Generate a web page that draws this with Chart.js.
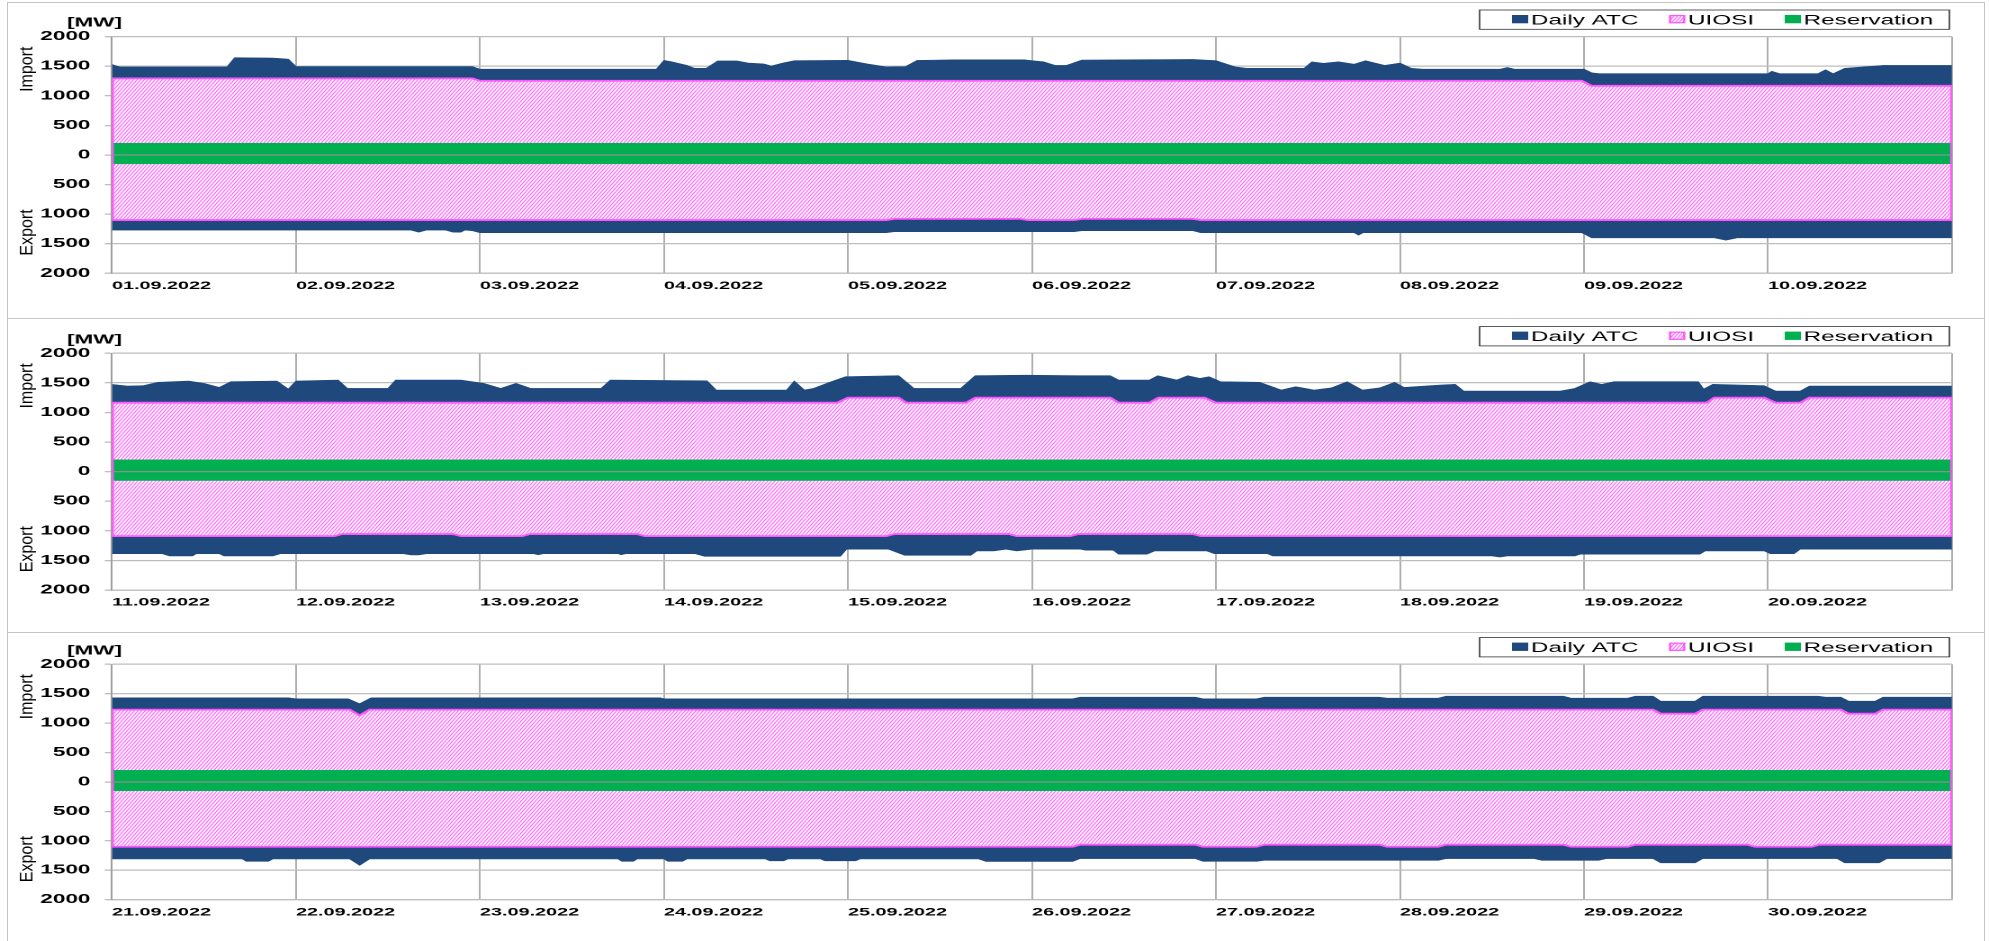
<!DOCTYPE html>
<html>
<head>
<meta charset="utf-8">
<script src="https://cdn.jsdelivr.net/npm/chart.js@4.4.1/dist/chart.umd.min.js"></script>
<style>
  html, body { margin: 0; padding: 0; background: #fff; }
  body { width: 1989px; height: 941px; position: relative; overflow: hidden; }
  .panel { position: absolute; left: 7px; width: 1978px; box-sizing: border-box;
           border-top: 1px solid #c4c4c4; border-left: 1px solid #c4c4c4; border-right: 1px solid #c4c4c4; }
  canvas { position: absolute; left: 0; }
</style>
</head>
<body>
<div class="panel" style="top:2px;height:316px"></div>
<div class="panel" style="top:318px;height:314px"></div>
<div class="panel" style="top:632px;height:309px"></div>
<canvas id="c1" width="1105" height="318" style="top:0px;width:1989px;height:318px"></canvas>
<canvas id="c2" width="1105" height="314" style="top:318px;width:1989px;height:314px"></canvas>
<canvas id="c3" width="1105" height="309" style="top:632px;width:1989px;height:309px"></canvas>
<script>
// tick labels (one per day, x values are hours from the start of the panel)
const dates1 = ['01.09.2022', '02.09.2022', '03.09.2022', '04.09.2022', '05.09.2022',
                '06.09.2022', '07.09.2022', '08.09.2022', '09.09.2022', '10.09.2022'];
const dates2 = ['11.09.2022', '12.09.2022', '13.09.2022', '14.09.2022', '15.09.2022',
                '16.09.2022', '17.09.2022', '18.09.2022', '19.09.2022', '20.09.2022'];
const dates3 = ['21.09.2022', '22.09.2022', '23.09.2022', '24.09.2022', '25.09.2022',
                '26.09.2022', '27.09.2022', '28.09.2022', '29.09.2022', '30.09.2022'];

// reservation band, same in all three panels [hour, MW]
const reservationImport = [[0, 200], [240, 200]];
const reservationExport = [[0, -150], [240, -150]];

// 01.09 - 10.09  [hour, MW]
const atcImport1 = [[0,1530],[1,1490],[15,1490],[16,1645],[21,1640],[23,1620],[24,1495],[47,1495],[48,1450],
  [71,1450],[72,1600],[73,1575],[75,1515],[76,1465],[77.5,1465],[79,1590],[81.5,1590],[83,1555],[85,1540],
  [86,1505],[87.5,1555],[89,1595],[96,1600],[98.5,1540],[101,1490],[103.5,1495],[105,1600],[110,1610],
  [119,1610],[120,1595],[121.5,1575],[123,1515],[124.5,1515],[126.5,1605],[141,1615],[144,1595],[146.5,1490],
  [148,1465],[155.5,1465],[156.5,1575],[158,1550],[160,1575],[162,1535],[163.5,1595],[166,1515],[168,1555],
  [169.5,1465],[171,1450],[181,1450],[182,1480],[183,1450],[192,1450],[193,1390],[194,1375],[216,1375],
  [216.5,1415],[217.5,1375],[222.5,1375],[223.5,1440],[224.5,1375],[226,1465],[229.5,1500],[231,1515],[240,1515]];
const uiosiImport1 = [[0,1295],[47,1295],[48,1255],[191.7,1255],[193,1170],[240,1170]];
const uiosiExport1 = [[0,-1100],[101,-1100],[102,-1080],[118.5,-1080],[119.5,-1100],[125.5,-1100],
  [126.5,-1080],[141,-1080],[142,-1100],[240,-1100]];
const atcExport1 = [[0,-1270],[39,-1270],[40,-1305],[41,-1270],[43.5,-1270],[44.5,-1305],[45.5,-1305],
  [46,-1270],[47,-1280],[48,-1313],[101,-1313],[102,-1296],[125.5,-1296],[126.5,-1280],[141,-1280],
  [142,-1313],[162,-1313],[162.6,-1353],[163.2,-1313],[191.7,-1313],[193,-1400],[209,-1400],[210.5,-1440],
  [212,-1400],[240,-1400]];

// 11.09 - 20.09
const atcImport2 = [[0,1475],[2,1447],[4,1452],[6,1509],[10,1531],[12,1492],[14,1424],[15.5,1520],[21.5,1531],
  [23,1396],[24,1531],[29.5,1548],[30.7,1407],[36,1407],[37,1548],[45.5,1548],[48.5,1492],[50.7,1407],
  [52.7,1492],[54.6,1407],[63.8,1407],[65,1548],[77.6,1535],[78.8,1379],[88,1379],[89,1531],[90.3,1379],
  [91.5,1407],[93.8,1520],[95.7,1604],[102.6,1621],[104.6,1407],[110.7,1407],[112.6,1621],[119,1630],
  [126.3,1621],[130.2,1621],[131.3,1548],[135.3,1548],[136.4,1621],[138.9,1548],[140.3,1621],[141.9,1576],
  [143.1,1604],[144.6,1520],[149.7,1509],[152.5,1379],[154.4,1435],[156.8,1379],[159.1,1418],[161.1,1520],
  [163.1,1379],[165.4,1418],[167.3,1509],[168.5,1424],[173.2,1463],[175.2,1475],[176.3,1362],[188.9,1362],
  [190.8,1407],[192.8,1520],[194.3,1475],[195.9,1520],[206.9,1520],[207.6,1396],[208.8,1475],[215.5,1452],
  [217,1362],[220.2,1362],[221.4,1447],[240,1447]];
const uiosiImport2 = [[0,1165],[94.6,1165],[96,1250],[102.6,1250],[103.6,1165],[111.4,1165],[112.6,1250],
  [130.2,1250],[131.3,1165],[135.3,1165],[136.5,1250],[142.5,1250],[144,1165],[208,1165],[209,1250],
  [215.5,1250],[217,1165],[220.2,1165],[221.4,1250],[240,1250]];
const uiosiExport2 = [[0,-1090],[29,-1090],[30,-1055],[44.5,-1055],[45.5,-1090],[53.5,-1090],[54.5,-1055],
  [68.5,-1055],[69.5,-1090],[101,-1090],[102,-1055],[117,-1055],[118,-1090],[125,-1090],[126,-1055],
  [141,-1055],[142,-1090],[240,-1090]];
const atcExport2 = [[0,-1386],[6.5,-1386],[7.5,-1425],[10.5,-1425],[11,-1386],[14,-1386],[14.6,-1425],
  [21,-1425],[22,-1386],[38,-1386],[39,-1408],[40,-1408],[41,-1386],[55,-1386],[55.6,-1405],[56.2,-1386],
  [66,-1386],[66.4,-1405],[67,-1386],[76,-1386],[77.3,-1431],[95,-1431],[95.8,-1311],[101.3,-1311],
  [103.4,-1415],[112,-1415],[112.8,-1340],[115,-1340],[116.6,-1311],[118,-1340],[120,-1311],[126.3,-1311],
  [127,-1328],[130.6,-1328],[131.3,-1396],[135,-1396],[136,-1340],[142.8,-1340],[143.8,-1386],[150.7,-1386],
  [151.4,-1425],[180,-1425],[181,-1443],[182,-1425],[190.8,-1425],[191.5,-1396],[207.1,-1396],[207.8,-1340],
  [215.5,-1340],[216.3,-1386],[219.4,-1386],[220.2,-1311],[240,-1311]];

// 21.09 - 30.09
const atcImport3 = [[0,1431],[23,1431],[24,1414],[30.8,1414],[32.3,1330],[33.8,1431],[71.5,1431],[72,1414],
  [125.3,1414],[126.3,1442],[141.3,1442],[142.3,1414],[149.3,1414],[150.3,1442],[165.3,1442],[166.3,1425],
  [173,1425],[174,1459],[189.3,1459],[190.3,1425],[197.7,1425],[198.7,1459],[201,1459],[202,1374],
  [206.5,1374],[207.5,1459],[222.5,1459],[223.5,1442],[225.5,1442],[226.5,1374],[230,1374],[231,1442],[240,1442]];
const uiosiImport3 = [[0,1230],[31,1230],[32.3,1132],[33.6,1230],[201,1230],[202,1161],[206.5,1161],
  [207.5,1230],[225.5,1230],[226.5,1161],[230,1161],[231,1230],[240,1230]];
const uiosiExport3 = [[0,-1100],[125.3,-1100],[126.3,-1065],[141.3,-1065],[142.3,-1100],[149.3,-1100],
  [150.3,-1065],[165.3,-1065],[166.3,-1100],[173,-1100],[174,-1065],[189.3,-1065],[190.3,-1100],[197.7,-1100],
  [198.7,-1065],[213.3,-1065],[214.3,-1100],[221.7,-1100],[222.7,-1065],[240,-1065]];
const atcExport3 = [[0,-1307],[17,-1307],[17.5,-1347],[20.4,-1347],[21,-1307],[31,-1307],[32.3,-1415],
  [33.6,-1307],[66,-1307],[66.5,-1347],[68,-1347],[68.5,-1307],[72,-1307],[72.5,-1347],[74.4,-1347],[75,-1307],
  [85.2,-1307],[85.8,-1340],[87.6,-1340],[88.2,-1307],[92.4,-1307],[93,-1340],[97,-1340],[97.6,-1307],
  [113,-1307],[114,-1350],[125.3,-1350],[126.3,-1301],[141.3,-1301],[142.3,-1347],[149.3,-1347],[150.3,-1330],
  [173,-1330],[174,-1301],[185.5,-1301],[186.5,-1330],[193.9,-1330],[194.9,-1301],[201,-1301],[202,-1374],
  [206.5,-1374],[207.5,-1301],[225,-1301],[226,-1374],[230.5,-1374],[231.5,-1301],[240,-1301]];

const BLUE = '#1f497d';
const GREEN = '#00b050';
const PINK = '#ff55ff';
const DPR = 2;
// the original picture is stretched sideways, so the canvases are drawn narrow and widened by css
const STRETCH = 1.8;
const FONT = '"Liberation Sans", Arial, sans-serif';

function makeHatch() {
  const tile = document.createElement('canvas');
  tile.width = 4; tile.height = 8;
  const t = tile.getContext('2d');
  t.fillStyle = '#ffffff';
  t.fillRect(0, 0, 4, 8);
  t.strokeStyle = '#ff6bff';
  t.lineWidth = 1.6;
  [-4, 0, 4].forEach(dx => {
    t.beginPath();
    t.moveTo(dx, 8);
    t.lineTo(dx + 4, 0);
    t.stroke();
  });
  const p = t.createPattern(tile, 'repeat');
  p.setTransform(new DOMMatrix().scale(1 / DPR));
  return p;
}

// legend box, [MW], Import / Export and the zero line
const decor = {
  id: 'decor',
  afterDatasetsDraw(chart) {
    const { ctx, chartArea: a, scales: { y } } = chart;
    const ds = chart.data.datasets;
    ctx.save();
    const up = ds[0].data, dn = ds[1].data;
    ctx.strokeStyle = PINK;
    ctx.lineWidth = 1;
    [[a.left + 0.5, up[0][1], dn[0][1]], [a.right - 0.5, up[up.length - 1][1], dn[dn.length - 1][1]]]
      .forEach(([px, v1, v2]) => {
        ctx.beginPath();
        ctx.moveTo(px, y.getPixelForValue(v1));
        ctx.lineTo(px, y.getPixelForValue(v2));
        ctx.stroke();
      });
    const y0 = y.getPixelForValue(0);
    ctx.strokeStyle = '#8e8e8e';
    ctx.lineWidth = 1.3;
    ctx.beginPath();
    ctx.moveTo(a.left, y0);
    ctx.lineTo(a.right, y0);
    ctx.stroke();
    ctx.restore();
  },
  afterDraw(chart) {
    const { ctx, chartArea: a, scales: { y } } = chart;
    const ds = chart.data.datasets;
    ctx.save();

    // legend
    const top = a.top - 26.7;
    ctx.strokeStyle = '#333';
    ctx.lineWidth = 0.8;
    ctx.strokeRect(822, top, 261, 19.3);
    ctx.font = '13.5px ' + FONT;
    ctx.textBaseline = 'alphabetic';
    let lx = 840;
    [ds[2], ds[0], ds[4]].forEach(d => {
      ctx.fillStyle = d.backgroundColor;
      ctx.fillRect(lx, top + 5, 9, 8.3);
      if (d.label === 'UIOSI') {
        ctx.strokeStyle = PINK;
        ctx.lineWidth = 1.2;
        ctx.strokeRect(lx + 0.6, top + 5.6, 7.8, 7.1);
      }
      lx += 10.5;
      ctx.fillStyle = '#000';
      ctx.fillText(d.label, lx, top + 14.5);
      lx += ctx.measureText(d.label).width + 17;
    });

    // unit
    ctx.font = 'bold 12.5px ' + FONT;
    ctx.fillText('[MW]', 37.2, a.top - 10);

    // side titles, drawn unstretched
    ctx.font = '16px ' + FONT;
    ctx.textAlign = 'center';
    [['Import', 1450], ['Export', -1310]].forEach(([txt, v]) => {
      ctx.save();
      ctx.translate(18, y.getPixelForValue(v));
      ctx.scale(0.65, 1);
      ctx.rotate(-Math.PI / 2);
      ctx.fillText(txt, 0, 0);
      ctx.restore();
    });
    ctx.restore();
  }
};

function makeChart(id, padTop, padBottom, dates, atcImp, uiosiImp, uiosiExp, atcExp) {
  const hatch = makeHatch();
  return new Chart(document.getElementById(id), {
    type: 'line',
    data: {
      datasets: [
        { label: 'UIOSI', data: uiosiImp, fill: 'origin', backgroundColor: hatch,
          borderColor: PINK, borderWidth: 1.8, order: 1 },
        { label: 'UIOSI', data: uiosiExp, fill: 'origin', backgroundColor: hatch,
          borderColor: PINK, borderWidth: 1.8, order: 1 },
        { label: 'Daily ATC', data: atcImp, fill: 0, backgroundColor: BLUE,
          borderColor: BLUE, borderWidth: 0.6, order: 2 },
        { label: 'Daily ATC', data: atcExp, fill: 1, backgroundColor: BLUE,
          borderColor: BLUE, borderWidth: 0.6, order: 2 },
        { label: 'Reservation', data: reservationImport, fill: 'origin', backgroundColor: GREEN,
          borderColor: GREEN, borderWidth: 0.5, order: 0 },
        { label: 'Reservation', data: reservationExport, fill: 'origin', backgroundColor: GREEN,
          borderColor: GREEN, borderWidth: 0.5, order: 0 }
      ]
    },
    options: {
      responsive: false,
      animation: false,
      devicePixelRatio: DPR,
      events: [],
      layout: { padding: { top: padTop, bottom: padBottom, left: 0, right: 1105 - 1952 / STRETCH } },
      elements: { point: { radius: 0 }, line: { tension: 0 } },
      plugins: { legend: { display: false }, tooltip: { enabled: false } },
      scales: {
        x: {
          type: 'linear', min: 0, max: 240, offset: false,
          afterFit: s => { s.height = 30; },
          grid: { color: '#9a9a9a', lineWidth: 0.8, drawTicks: false },
          border: { color: '#bdbdbd', width: 1.3 },
          ticks: {
            stepSize: 24, autoSkip: false, maxRotation: 0, align: 'start', padding: 6,
            color: '#000', font: { family: FONT, size: 11, weight: 'bold' },
            callback: v => dates[v / 24] || ''
          }
        },
        y: {
          min: -2000, max: 2000,
          afterFit: s => { s.width = 112 / STRETCH; },
          grid: { color: '#bdbdbd', lineWidth: 1.3, tickLength: 4 },
          border: { color: '#9a9a9a', width: 0.8 },
          ticks: {
            stepSize: 500, padding: 8, color: '#000',
            font: { family: FONT, size: 12.5, weight: 'bold' },
            callback: v => Math.abs(v)
          }
        }
      }
    },
    plugins: [decor]
  });
}

makeChart('c1', 36.7, 14.7, dates1, atcImport1, uiosiImport1, uiosiExport1, atcExport1);
makeChart('c2', 35.3, 12, dates2, atcImport2, uiosiImport2, uiosiExport2, atcExport2);
makeChart('c3', 32.3, 11.3, dates3, atcImport3, uiosiImport3, uiosiExport3, atcExport3);
</script>
</body>
</html>
